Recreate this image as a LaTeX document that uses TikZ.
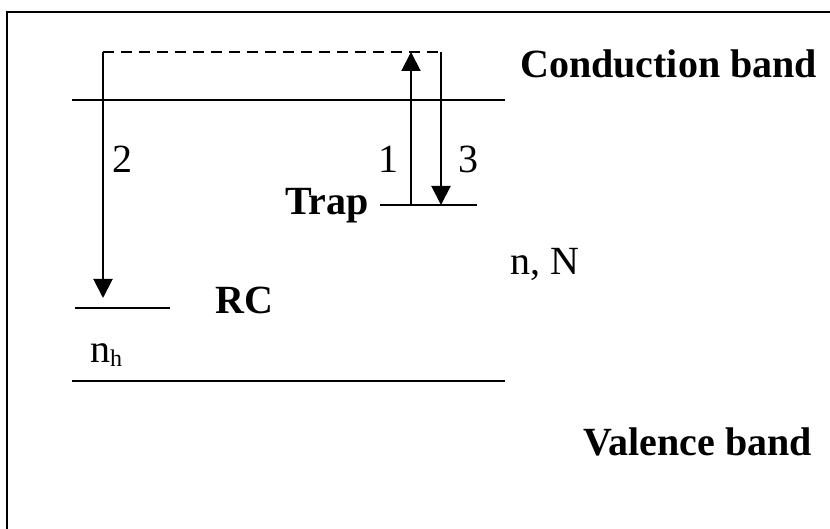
\documentclass[tikz,border=0pt]{standalone}
\usepackage{fontspec}
\setmainfont{Liberation Serif}
\usetikzlibrary{arrows.meta}
\begin{document}
\begin{tikzpicture}[x=1pt,y=-1pt,
  level/.style={line width=2pt},
  trans/.style={line width=2pt,-{Triangle[length=19pt,width=19pt]}},
  lbl/.style={inner sep=0pt,font=\fontsize{40}{48}\selectfont},
  blbl/.style={inner sep=0pt,font=\fontsize{40}{48}\selectfont\bfseries}]
\useasboundingbox (0,0) rectangle (830,529);
\clip (0,0) rectangle (830,529);
% frame
\draw[line width=2.5pt] (7,560) -- (7,12) -- (860,12);
% coordinates
\coordinate (cbL) at (72,100);  \coordinate (cbR) at (505,100);
\coordinate (vbL) at (72,381);  \coordinate (vbR) at (505,381);
\coordinate (trL) at (380,205); \coordinate (trR) at (477,205);
\coordinate (rcL) at (75,308);  \coordinate (rcR) at (170,308);
\coordinate (top2) at (103,52); \coordinate (top1) at (411,52); \coordinate (top3) at (441,52);
\coordinate (bot2) at (103,298); \coordinate (bot1) at (411,205); \coordinate (bot3) at (441,205);
% levels
\draw[level] (cbL) -- (cbR);
\draw[level] (vbL) -- (vbR);
\draw[level] (trL) -- (trR);
\draw[level] (rcL) -- (rcR);
% dashed line
\draw[line width=2pt,dash pattern=on 11pt off 7pt] (top2) -- (top3);
% transitions
\draw[trans] (top2) -- (bot2);
\draw[trans] (bot1) -- (top1);
\draw[trans] (top3) -- (bot3);
% labels
\node[blbl,anchor=base west] (cbt) at (520,78) {Conduction band};
\node[blbl,anchor=base west] (vbt) at (583,455) {Valence band};
\node[lbl,anchor=base west] (nN) at (510,275) {n, N};
\node[blbl,anchor=base west] (trap) at (285,215) {Trap};
\node[blbl,anchor=base west] (rc) at (215,313) {RC};
\node[lbl,anchor=base west] (nh) at (90,362) {n\raisebox{-5pt}{\fontsize{24}{28}\selectfont h}};
\node[lbl,anchor=base] (l2) at (122,173) {2};
\node[lbl,anchor=base] (l1) at (388,173) {1};
\node[lbl,anchor=base] (l3) at (468,173) {3};
\end{tikzpicture}
\end{document}
